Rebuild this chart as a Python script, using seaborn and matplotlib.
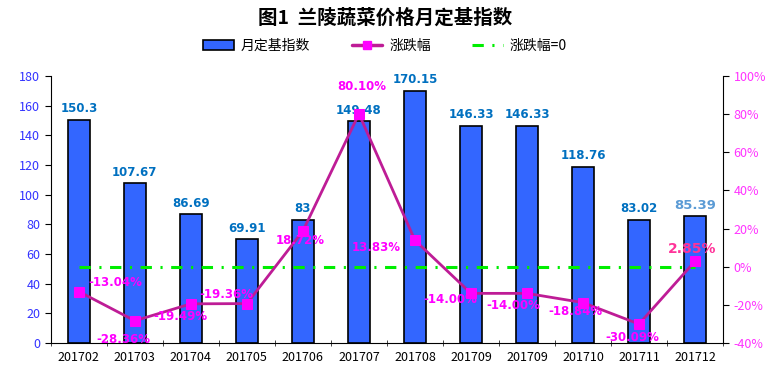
import numpy as np
import pandas as pd
import seaborn as sns
import matplotlib.pyplot as plt
from matplotlib.patches import Patch
from matplotlib.lines import Line2D
from matplotlib.ticker import FuncFormatter

# data
months = ['201702', '201703', '201704', '201705', '201706', '201707',
          '201708', '201709', '201709', '201710', '201711', '201712']
index_vals = [150.3, 107.67, 86.69, 69.91, 83, 149.48,
              170.15, 146.33, 146.33, 118.76, 83.02, 85.39]
index_text = ['150.3', '107.67', '86.69', '69.91', '83', '149.48',
              '170.15', '146.33', '146.33', '118.76', '83.02', '85.39']
change_pct = [-13.04, -28.36, -19.49, -19.36, 18.72, 80.10,
              13.83, -14.00, -14.00, -18.84, -30.09, 2.85]

# label offsets (pixels) for the percentage labels
pct_offsets = [(36, 9), (-11, -19), (-10, -13), (-21, 9), (-3, -10), (3, 27),
               (-39, -7), (-21, -6), (-14, -12), (-8, -9), (-7, -13), (-3, 12)]

df = pd.DataFrame({'pos': range(len(months)), 'index': index_vals,
                   'pct': np.array(change_pct) / 100.0})

sns.set_style("white")
plt.rcParams['font.family'] = ['Noto Sans CJK SC', 'DejaVu Sans']
plt.rcParams['text.color'] = 'black'

fig = plt.figure(figsize=(7.7, 3.74), dpi=100)
ax = fig.add_axes([0.066, 0.083, 0.873, 0.714])

bar_blue = '#3366FF'
line_col = '#BE1C96'
mark_col = '#FF00FF'
green = '#00EE00'
dashdot = (0, (3.7, 2.8, 0.7, 2.8))

sns.barplot(data=df, x='pos', y='index', color=bar_blue, width=0.4,
            edgecolor='black', linewidth=1.2, saturation=1, ax=ax)
ax.set_xlim(-0.5, len(months) - 0.5)
ax.set_ylim(0, 180)
ax.set_yticks(range(0, 181, 20))
ax.set_xticks(np.arange(len(months)))
ax.set_xticklabels(months)
ax.set_xlabel('')
ax.set_ylabel('')
ax.tick_params(axis='y', colors='#3333FF', labelsize=9, length=4, direction='out', left=True)
ax.tick_params(axis='x', labelcolor='black', labelsize=9, length=0, pad=6)
# small ticks between categories on the x-axis
ax.set_xticks(np.arange(-0.5, len(months), 1), minor=True)
ax.tick_params(axis='x', which='minor', length=5, direction='inout', bottom=True)
ax.tick_params(axis='y', which='both', color='black')
for s in ['left', 'bottom']:
    ax.spines[s].set_color('black')
ax.spines['top'].set_visible(False)
ax.spines['right'].set_visible(False)

for i, (v, t) in enumerate(zip(index_vals, index_text)):
    col = '#5B9BD5' if i == len(months) - 1 else '#0070C0'
    fs = 9.5 if i == len(months) - 1 else 8.5
    ax.annotate(t, (i, v), xytext=(0, 11), textcoords='offset pixels',
                ha='center', va='center', color=col, fontsize=fs,
                fontweight='bold', family='DejaVu Sans')

ax2 = ax.twinx()
ax2.hlines(0, 0, len(months) - 1, colors=green, linestyles=dashdot,
           linewidth=2.2, zorder=2)
sns.lineplot(data=df, x='pos', y='pct', color=line_col, linewidth=2,
             marker='s', markersize=7, markerfacecolor=mark_col,
             markeredgecolor=mark_col, ax=ax2, zorder=3)
ax2.set_ylim(-0.4, 1.0)
ax2.set_yticks(np.arange(-0.4, 1.01, 0.2))
ax2.yaxis.set_major_formatter(FuncFormatter(lambda v, p: '{:.0f}%'.format(v * 100)))
ax2.set_ylabel('')
ax2.set_xlabel('')
ax2.set_xlim(-0.5, len(months) - 0.5)
ax2.tick_params(axis='y', labelcolor='#FF33FF', color='black', labelsize=9,
                length=4, direction='out', right=True)
ax2.spines['right'].set_color('black')
ax2.spines['top'].set_visible(False)
ax2.spines['left'].set_visible(False)
ax2.spines['bottom'].set_visible(False)

for i, (p, off) in enumerate(zip(change_pct, pct_offsets)):
    last = i == len(months) - 1
    ax2.annotate('{:.2f}%'.format(p), (i, p / 100.0), xytext=off,
                 textcoords='offset pixels', ha='center', va='center',
                 color='#FF3399' if last else '#FF00FF',
                 fontsize=10 if last else 8.5, fontweight='bold',
                 family='DejaVu Sans', zorder=5)

fig.text(0.5, 0.952, '图1  兰陵蔬菜价格月定基指数', ha='center', va='center',
         fontsize=14, fontweight='bold', color='black')

handles = [Patch(facecolor=bar_blue, edgecolor='black', linewidth=1.2),
           Line2D([], [], color=line_col, linewidth=2.5, marker='s',
                  markersize=6, markerfacecolor=mark_col, markeredgecolor=mark_col),
           Line2D([], [], color=green, linewidth=2.2, linestyle=dashdot)]
fig.legend(handles, ['月定基指数', '涨跌幅', '涨跌幅=0'], loc='center',
           bbox_to_anchor=(0.5, 0.877), ncol=3, frameon=False, fontsize=10,
           handlelength=2.2, columnspacing=3.0, handletextpad=0.5,
           labelcolor='black')

fig.savefig('out.png', dpi=100)
